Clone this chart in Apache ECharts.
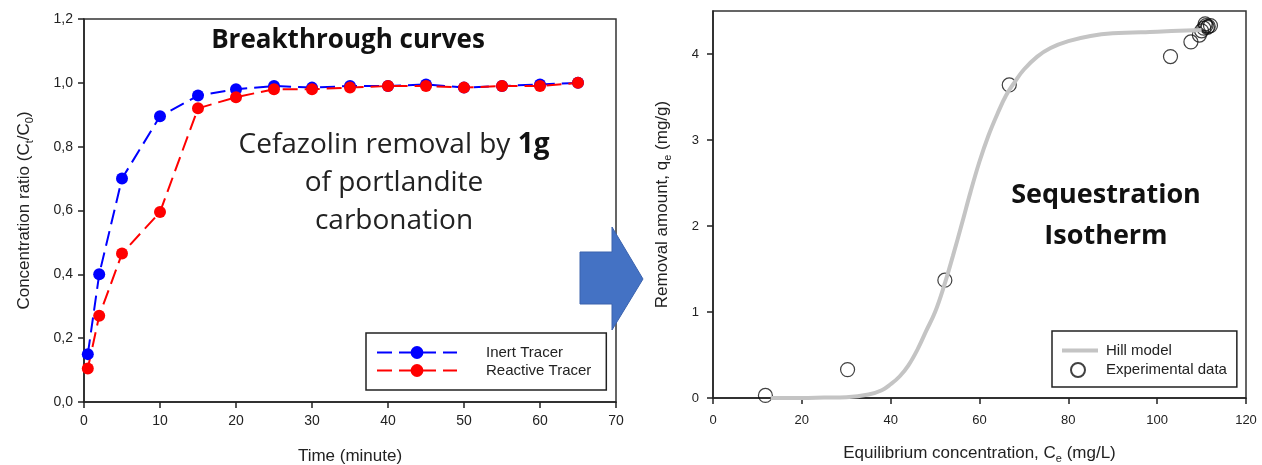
<!DOCTYPE html>
<html>
<head>
<meta charset="UTF-8">
<title>Breakthrough curves / Sequestration isotherm</title>
<script src="https://cdn.jsdelivr.net/npm/echarts@6/dist/echarts.min.js"></script>
<style>
  body { margin: 0; background: #fff; }
  #chart { width: 1262px; height: 465px; }
</style>
</head>
<body>
<div id="chart"></div>
<script>
// breakthrough curves (time in minutes, C/C0)
var timeMin = [0.5, 2, 5, 10, 15, 20, 25, 30, 35, 40, 45, 50, 55, 60, 65];
var inertTracer = [0.15, 0.40, 0.70, 0.895, 0.96, 0.98, 0.99, 0.985, 0.99, 0.99, 0.995, 0.985, 0.99, 0.995, 1.0];
var reactiveTracer = [0.105, 0.27, 0.465, 0.595, 0.92, 0.955, 0.98, 0.98, 0.985, 0.99, 0.99, 0.985, 0.99, 0.99, 1.0];

// isotherm - experimental points (Ce mg/L, qe mg/g)
var expCe = [11.8, 30.3, 52.2, 66.7, 103, 107.6, 109.5, 110, 110.5, 111, 111.5, 112, 110.8, 111.3];
var expQe = [0.03, 0.33, 1.37, 3.64, 3.97, 4.14, 4.22, 4.27, 4.30, 4.33, 4.32, 4.33, 4.35, 4.31];

// Hill model curve
var hillCe = [13, 20, 25, 30, 35, 38, 40, 42, 44, 46, 48, 50, 52, 54, 56, 58, 60, 62, 64, 66, 68, 70, 73, 76, 80, 85, 90, 100, 110];
var hillQe = [0, 0, 0.005, 0.01, 0.04, 0.09, 0.16, 0.25, 0.38, 0.56, 0.78, 1.0, 1.3, 1.65, 2.02, 2.4, 2.75, 3.05, 3.3, 3.52, 3.68, 3.82, 3.97, 4.07, 4.15, 4.21, 4.24, 4.26, 4.28];

function pairs(xs, ys) {
    var out = [];
    for (var i = 0; i < xs.length; i++) out.push([xs[i], ys[i]]);
    return out;
}
function comma(v) { return v.toFixed(1).replace('.', ','); }

var FONT = 'Liberation Sans';
var axisLine = { show: true, lineStyle: { color: '#222', width: 1.5 } };
var axisTick = { show: true, inside: false, length: 6, lineStyle: { color: '#222', width: 1.5 } };
var subRich = {
    n: { fontFamily: FONT, fontSize: 17, color: '#222' },
    s: { fontFamily: FONT, fontSize: 11, color: '#222', padding: [10, 0, 0, 0] }
};
var legendText = { fontFamily: FONT, fontSize: 15, color: '#222' };

var option = {
    animation: false,
    grid: [
        { left: 84, top: 19, width: 532, height: 383, outerBoundsMode: 'none', containLabel: false,
          show: true, borderColor: '#333', borderWidth: 1.5, backgroundColor: 'transparent' },
        { left: 713, top: 11, width: 533, height: 387, outerBoundsMode: 'none', containLabel: false,
          show: true, borderColor: '#333', borderWidth: 1.5, backgroundColor: 'transparent' }
    ],
    xAxis: [
        {
            gridIndex: 0, type: 'value', min: 0, max: 70, interval: 10,
            axisLine: axisLine, axisTick: axisTick, splitLine: { show: false },
            axisLabel: { fontFamily: FONT, fontSize: 14, color: '#222', margin: 12 },
            name: 'Time (minute)', nameLocation: 'middle', nameGap: 46,
            nameTextStyle: { fontFamily: FONT, fontSize: 17, color: '#222' }
        },
        {
            gridIndex: 1, type: 'value', min: 0, max: 120, interval: 20,
            axisLine: axisLine, axisTick: axisTick, splitLine: { show: false },
            axisLabel: { fontFamily: FONT, fontSize: 13, color: '#222', margin: 16 },
            name: '{n|Equilibrium concentration, C}{s|e}{n| (mg/L)}', nameLocation: 'middle', nameGap: 45,
            nameTextStyle: { rich: subRich }
        }
    ],
    yAxis: [
        {
            gridIndex: 0, type: 'value', min: 0, max: 1.2, interval: 0.2,
            axisLine: axisLine, axisTick: axisTick, splitLine: { show: false },
            axisLabel: { formatter: comma, fontFamily: FONT, fontSize: 14, color: '#222', margin: 11 },
            name: '{n|Concentration ratio (C}{s|t}{n|/C}{s|0}{n|)}', nameLocation: 'middle', nameGap: 49,
            nameTextStyle: { rich: subRich }
        },
        {
            gridIndex: 1, type: 'value', min: 0, max: 4.5, interval: 1,
            axisLine: axisLine, axisTick: axisTick, splitLine: { show: false },
            axisLabel: { showMaxLabel: false, fontFamily: FONT, fontSize: 13, color: '#222', margin: 14 },
            name: '{n|Removal amount, q}{s|e}{n| (mg/g)}', nameLocation: 'middle', nameGap: 40,
            nameTextStyle: { rich: subRich }
        }
    ],
    legend: [
        {
            left: 366, top: 333, orient: 'vertical',
            data: ['Inert Tracer', 'Reactive Tracer'],
            itemWidth: 80, itemHeight: 16, itemGap: 3,
            borderColor: '#222', borderWidth: 1.5, padding: [12, 15, 12, 10],
            textStyle: Object.assign({ padding: [0, 0, 0, 24] }, legendText)
        },
        {
            left: 1052, top: 331, orient: 'vertical',
            data: [{ name: 'Hill model', icon: 'rect' }],
            itemWidth: 36, itemHeight: 4,
            borderColor: '#222', borderWidth: 1.5, padding: [12, 65, 29, 10],
            textStyle: Object.assign({ padding: [0, 0, 0, 3] }, legendText)
        },
        {
            left: 1070, top: 362, orient: 'vertical',
            data: ['Experimental data'],
            itemWidth: 20, itemHeight: 14, padding: 0,
            textStyle: Object.assign({ padding: [0, 0, 0, 13] }, legendText)
        }
    ],
    series: [
        {
            name: 'Inert Tracer', type: 'line', xAxisIndex: 0, yAxisIndex: 0,
            data: pairs(timeMin, inertTracer),
            symbol: 'circle', symbolSize: 12,
            lineStyle: { color: '#0000ff', width: 2, type: [15, 7] },
            itemStyle: { color: '#0000ff' }
        },
        {
            name: 'Reactive Tracer', type: 'line', xAxisIndex: 0, yAxisIndex: 0,
            data: pairs(timeMin, reactiveTracer),
            symbol: 'circle', symbolSize: 12,
            lineStyle: { color: '#ff0000', width: 2, type: [15, 7] },
            itemStyle: { color: '#ff0000' }
        },
        {
            name: 'Hill model', type: 'line', xAxisIndex: 1, yAxisIndex: 1,
            data: pairs(hillCe, hillQe), smooth: 0.4,
            showSymbol: false, symbol: 'none',
            lineStyle: { color: '#c4c4c4', width: 4 },
            itemStyle: { color: '#c4c4c4' }
        },
        {
            name: 'Experimental data', type: 'scatter', xAxisIndex: 1, yAxisIndex: 1,
            data: pairs(expCe, expQe),
            symbol: 'circle', symbolSize: 14,
            itemStyle: { color: 'rgba(255,255,255,0)', borderColor: '#111', borderWidth: 1.2 }
        }
    ],
    graphic: [
        // block arrow between the two panels
        {
            type: 'polygon', z: 0,
            shape: { points: [[580, 252], [612, 252], [612, 227], [643, 279], [612, 330], [612, 304], [580, 304]] },
            style: { fill: '#4472c4', stroke: '#3a62ad', lineWidth: 1 }
        },
        {
            type: 'text', z: 10,
            style: {
                x: 348, y: 41, text: 'Breakthrough curves', align: 'center', verticalAlign: 'middle',
                font: 'bold 26px "Open Sans"', fill: '#111'
            }
        },
        {
            type: 'text', z: 10,
            style: {
                x: 394, y: 183, align: 'center', verticalAlign: 'middle',
                text: '{r|Cefazolin removal by }{b|1g}\n{r|of portlandite}\n{r|carbonation}',
                rich: {
                    r: { font: '28px "Open Sans"', fill: '#222', lineHeight: 38 },
                    b: { font: 'bold 28px "Open Sans"', fill: '#111', lineHeight: 38 }
                }
            }
        },
        {
            type: 'text', z: 10,
            style: {
                x: 1106, y: 216, align: 'center', verticalAlign: 'middle',
                text: 'Sequestration\nIsotherm', lineHeight: 41,
                font: 'bold 27px "Open Sans"', fill: '#111'
            }
        }
    ]
};

var myChart = echarts.init(document.getElementById('chart'));
myChart.setOption(option);
</script>
</body>
</html>
